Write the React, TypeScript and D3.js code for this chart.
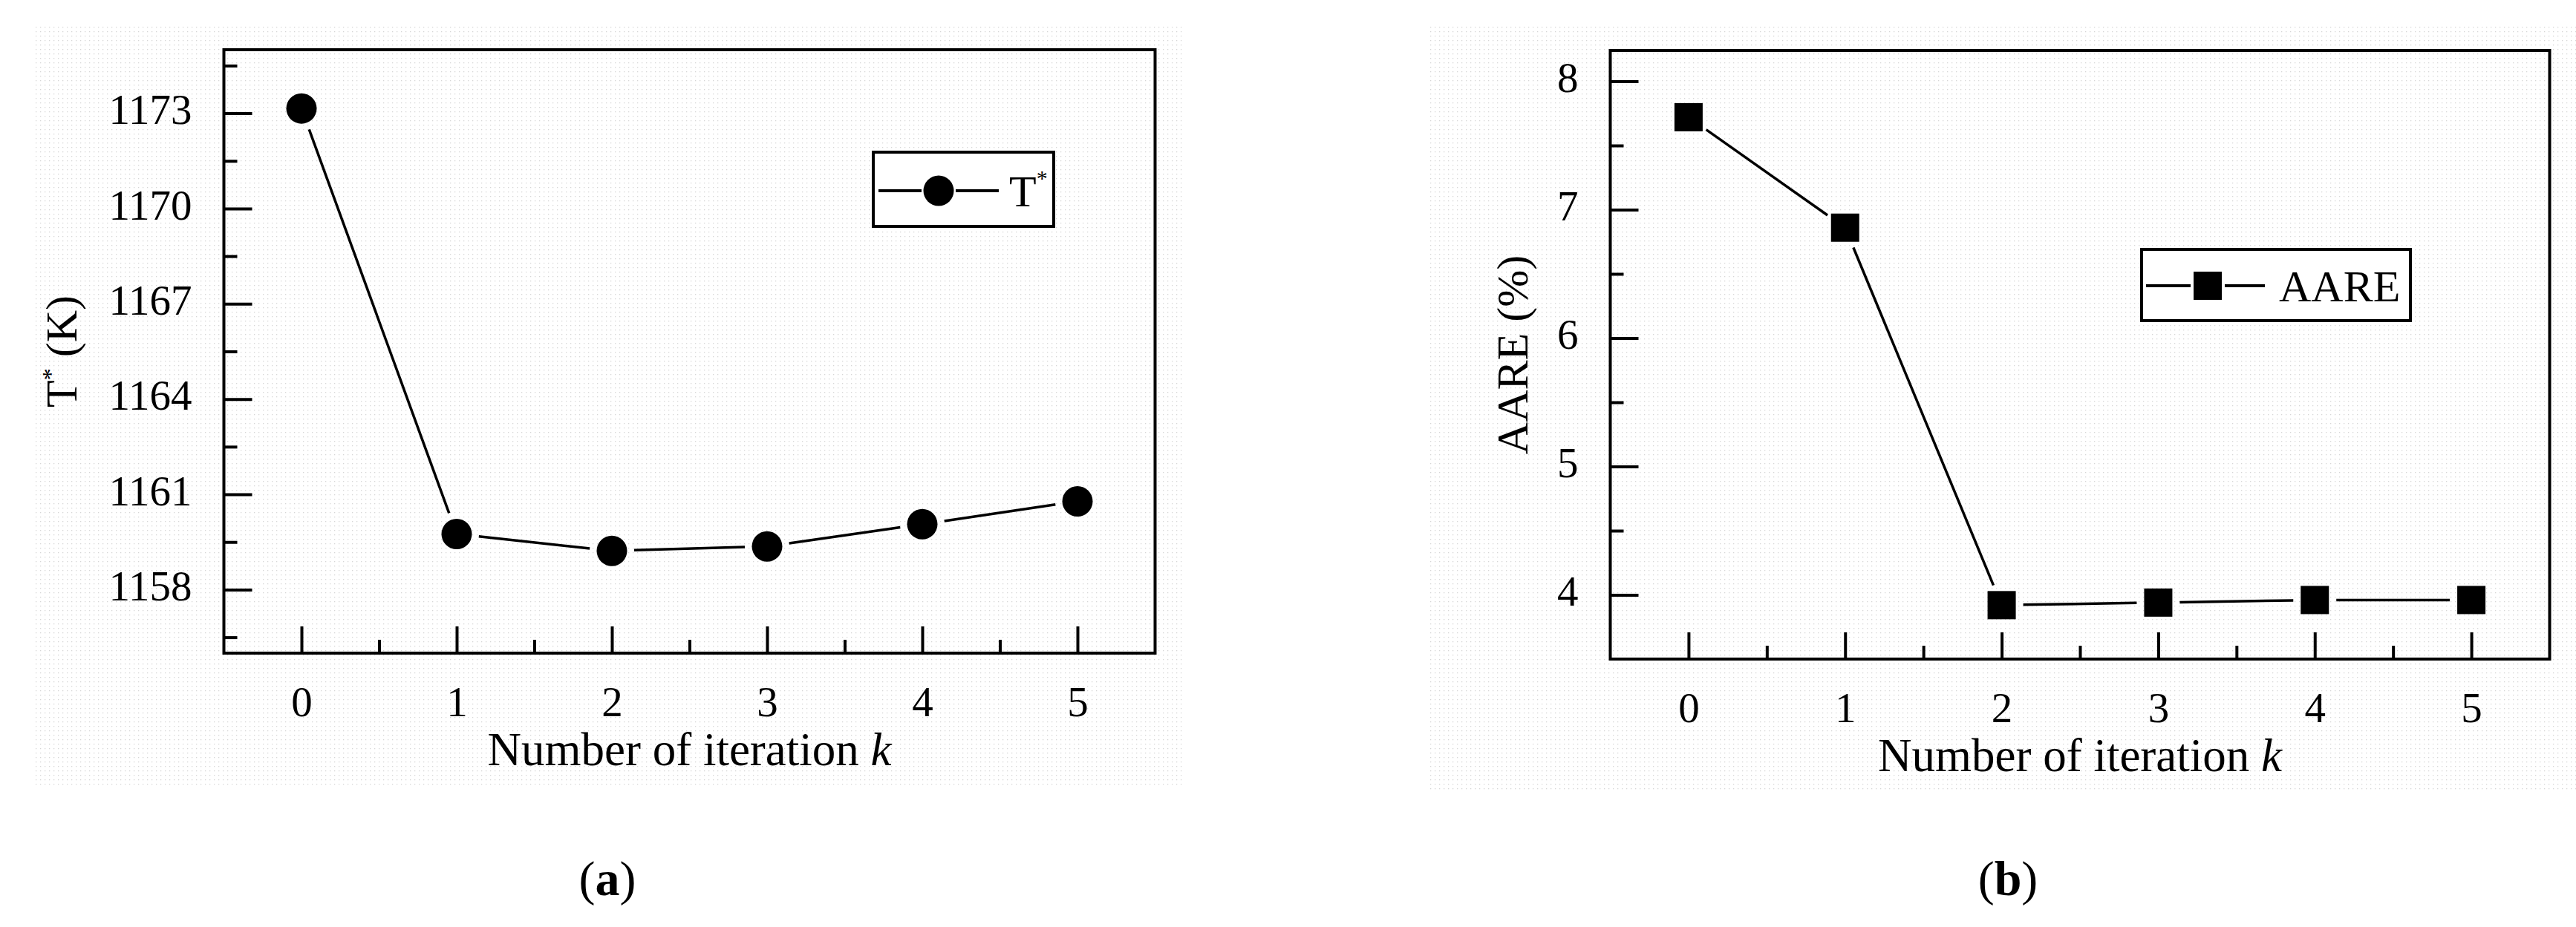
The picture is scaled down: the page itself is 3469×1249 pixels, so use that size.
import React, { useEffect, useRef } from "react";
import * as d3 from "d3";

// data
const iterations = [0, 1, 2, 3, 4, 5];
const tStarValues = [1173.15, 1159.75, 1159.22, 1159.36, 1160.06, 1160.78];
const aareValues = [7.72, 6.86, 3.92, 3.94, 3.96, 3.96];

// tick values
const xMinorTicks = [0.5, 1.5, 2.5, 3.5, 4.5];
const tStarTicks = [1158, 1161, 1164, 1167, 1170, 1173];
const tStarMinorTicks = [1156.5, 1159.5, 1162.5, 1165.5, 1168.5, 1171.5, 1174.5];
const aareTicks = [4, 5, 6, 7, 8];
const aareMinorTicks = [4.5, 5.5, 6.5, 7.5];

const FONT = "'Palatino Linotype', 'Book Antiqua', 'Liberation Serif', serif";

const App = () => {
  const svgRef = useRef<SVGSVGElement | null>(null);

  useEffect(() => {
    makeGraph();
  }, []);

  const makeGraph = () => {
    const width = 3469;
    const height = 1249;

    const svg = d3.select(svgRef.current).attr("width", width).attr("height", height);
    svg.selectAll("*").remove();

    // faint dotted backdrop of the scanned figure
    const pat = svg
      .append("defs")
      .append("pattern")
      .attr("id", "dots")
      .attr("width", 6)
      .attr("height", 6)
      .attr("patternUnits", "userSpaceOnUse");
    pat.append("rect").attr("width", 1.3).attr("height", 1.3).attr("fill", "#d6d6d6");

    svg.append("rect").attr("x", 44).attr("y", 32).attr("width", 1549).attr("height", 1028).attr("fill", "url(#dots)");
    svg.append("rect").attr("x", 1922).attr("y", 32).attr("width", 1547).attr("height", 1036).attr("fill", "url(#dots)");

    const panels = [
      {
        values: tStarValues,
        left: 301.5, right: 1555.5, top: 67, bottom: 880,
        yDomain: [1156, 1175],
        ticks: tStarTicks, minor: tStarMinorTicks,
        yTitleX: 103,
        marker: "circle", gap: 30,
        legend: { x: 1176, y: 205, w: 243, h: 100, l0: 7, l1: 169, mx: 88, cy: 52, tx: 183, ty: 73 },
        caption: "a", captionX: 818,
      },
      {
        values: aareValues,
        left: 2168.5, right: 3433.5, top: 68, bottom: 888,
        yDomain: [3.5, 8.24],
        ticks: aareTicks, minor: aareMinorTicks,
        yTitleX: 2057,
        marker: "square", gap: 29,
        legend: { x: 2884, y: 336, w: 362, h: 96, l0: 6, l1: 166, mx: 89, cy: 49, tx: 185, ty: 70 },
        caption: "b", captionX: 2704,
      },
    ];

    panels.forEach((p, idx) => {
      const x = d3.scaleLinear().domain([-0.5, 5.5]).range([p.left, p.right]);
      const y = d3.scaleLinear().domain(p.yDomain).range([p.bottom, p.top]);
      const g = svg.append("g");

      // major/minor ticks pointing inward
      const yAxis = g
        .append("g")
        .attr("transform", `translate(${p.left},0)`)
        .call(d3.axisLeft(y).tickValues(p.ticks).tickSize(-38).tickPadding(43).tickFormat(d3.format("d")));
      const yMinor = g
        .append("g")
        .attr("transform", `translate(${p.left},0)`)
        .call(d3.axisLeft(y).tickValues(p.minor).tickSize(-18).tickFormat(() => ""));
      const xAxis = g
        .append("g")
        .attr("transform", `translate(0,${p.bottom})`)
        .call(d3.axisBottom(x).tickValues(iterations).tickSize(-36).tickPadding(45).tickFormat(d3.format("d")));
      const xMinor = g
        .append("g")
        .attr("transform", `translate(0,${p.bottom})`)
        .call(d3.axisBottom(x).tickValues(xMinorTicks).tickSize(-18).tickFormat(() => ""));

      [yAxis, yMinor, xAxis, xMinor].forEach((a) => {
        a.select(".domain").remove();
        a.attr("font-family", FONT).attr("font-size", 57);
        a.selectAll("line").attr("stroke", "#000").attr("stroke-width", 4);
        a.selectAll("text").attr("fill", "#000");
      });
      yAxis.selectAll("text").attr("dy", "0.25em");

      // frame
      g.append("rect")
        .attr("x", p.left)
        .attr("y", p.top)
        .attr("width", p.right - p.left)
        .attr("height", p.bottom - p.top)
        .attr("fill", "none")
        .attr("stroke", "#000")
        .attr("stroke-width", 4);

      // line segments with a gap round each symbol
      const pts = iterations.map((k, i) => [x(k), y(p.values[i])]);
      const segs = d3.pairs(pts).map(([a, b]) => {
        const dx = b[0] - a[0];
        const dy = b[1] - a[1];
        const len = Math.hypot(dx, dy);
        const ux = dx / len;
        const uy = dy / len;
        return [a[0] + ux * p.gap, a[1] + uy * p.gap, b[0] - ux * p.gap, b[1] - uy * p.gap];
      });
      g.append("g")
        .selectAll("line")
        .data(segs)
        .enter()
        .append("line")
        .attr("x1", (d) => d[0])
        .attr("y1", (d) => d[1])
        .attr("x2", (d) => d[2])
        .attr("y2", (d) => d[3])
        .attr("stroke", "#000")
        .attr("stroke-width", 3.5);

      const drawMarker = (sel, cx, cy) => {
        if (p.marker === "circle") {
          sel.append("circle").attr("cx", cx).attr("cy", cy).attr("r", 20.5).attr("fill", "#000");
        } else {
          sel.append("rect").attr("x", cx - 19).attr("y", cy - 19).attr("width", 38).attr("height", 38).attr("fill", "#000");
        }
      };
      const marks = g.append("g");
      pts.forEach((d) => drawMarker(marks, d[0], d[1]));

      // axis titles
      const xTitle = g
        .append("text")
        .attr("x", (p.left + p.right) / 2)
        .attr("y", p.bottom + 151)
        .attr("text-anchor", "middle")
        .attr("font-family", FONT)
        .attr("font-size", 63);
      xTitle.append("tspan").text("Number of iteration ");
      xTitle.append("tspan").attr("font-style", "italic").text("k");

      const yTitle = g
        .append("text")
        .attr("transform", `translate(${p.yTitleX},${(p.top + p.bottom) / 2}) rotate(-90)`)
        .attr("text-anchor", "middle")
        .attr("font-family", FONT)
        .attr("font-size", 60);
      if (idx === 0) {
        yTitle.append("tspan").text("T");
        yTitle.append("tspan").attr("font-size", 32).attr("dy", -24).text("*");
        yTitle.append("tspan").attr("dy", 24).text(" (K)");
      } else {
        yTitle.text("AARE (%)");
      }

      // legend
      const L = p.legend;
      const lg = g.append("g").attr("transform", `translate(${L.x},${L.y})`);
      lg.append("rect").attr("width", L.w).attr("height", L.h).attr("fill", "#fff").attr("stroke", "#000").attr("stroke-width", 4);
      lg.append("line").attr("x1", L.l0).attr("x2", L.mx - 23).attr("y1", L.cy).attr("y2", L.cy).attr("stroke", "#000").attr("stroke-width", 4);
      lg.append("line").attr("x1", L.mx + 23).attr("x2", L.l1).attr("y1", L.cy).attr("y2", L.cy).attr("stroke", "#000").attr("stroke-width", 4);
      drawMarker(lg, L.mx, L.cy);
      const lt = lg.append("text").attr("x", L.tx).attr("y", L.ty).attr("font-family", FONT).attr("font-size", 60);
      if (idx === 0) {
        lt.append("tspan").text("T");
        lt.append("tspan").attr("font-size", 30).attr("dy", -28).text("*");
      } else {
        lt.text("AARE");
      }

      // caption
      const cap = svg
        .append("text")
        .attr("x", p.captionX)
        .attr("y", 1206)
        .attr("text-anchor", "middle")
        .attr("font-family", FONT)
        .attr("font-size", 66);
      cap.append("tspan").text("(");
      cap.append("tspan").attr("font-weight", "bold").text(p.caption);
      cap.append("tspan").text(")");
    });
  };

  return (
    <svg
      ref={svgRef}
      style={{ position: "absolute", left: 0, top: 0, background: "#fff" }}
    ></svg>
  );
};

export default App;
